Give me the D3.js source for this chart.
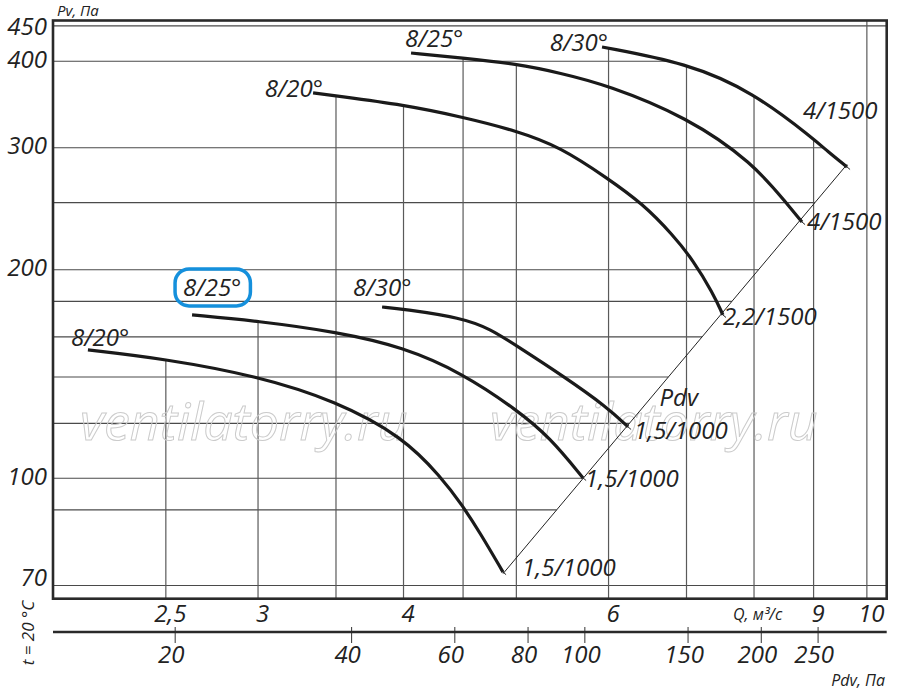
<!DOCTYPE html>
<html>
<head>
<meta charset="utf-8">
<title>Pv-Q fan chart (d3)</title>
<script src="https://cdn.jsdelivr.net/npm/d3@7"></script>
<style>
    body { margin: 0; background: #fff; }
    svg text {
        font-family: "Open Sans", sans-serif;
        font-style: italic;
        fill: #222;
    }
</style>
</head>
<body>
<svg id="chart" width="900" height="692"></svg>
<script>
// ---- data ----
const qGrid = [2.5, 3, 3.5, 4, 4.5, 5, 6, 7, 8, 9, 10];
const qTicks = [2.5, 3, 4, 6, 9, 10];
const qTickLabels = ["2,5", "3", "4", "6", "9", "10"];
const pvGrid = [70, 90, 100, 120, 140, 160, 180, 200, 250, 300, 400, 450];
const pvTicks = [70, 100, 200, 300, 400, 450];
const pdvTicks = [20, 40, 60, 80, 100, 150, 200, 250];
const pdvK = 3.07;                 // Pdv = k * Q^2
const pdvLineQ = [4.87, 9.615];

// [Q m3/s, Pv Pa]
const c20hi = [[3.345, 360.0], [3.50, 356.4], [4.005, 345.9], [4.491, 332.4], [5.006, 317.3], [5.451, 300.9],
               [5.982, 271.4], [6.423, 248.9], [6.815, 224.5], [7.089, 206.6], [7.376, 185.1], [7.523, 172.1]];
const c25hi = [[4.06, 411.1], [4.491, 404.4], [5.006, 396.4], [5.451, 384.7], [5.982, 369.7], [7.006, 332.4],
               [7.983, 285.3], [8.539, 248.9], [8.796, 234.4]];
const c30hi = [[5.923, 419.4], [7.006, 397.7], [7.983, 361.2], [9.025, 307.9], [9.242, 296.9], [9.615, 281.5]];
const c20lo = [[2.143, 153.2], [2.496, 148.7], [2.994, 140.5], [3.50, 129.3], [3.996, 114.7], [4.308, 100.4],
               [4.491, 91.5], [4.654, 83.4], [4.870, 73.2]];
const c25lo = [[2.633, 172.1], [2.994, 168.7], [3.509, 162.6], [3.996, 154.7], [4.491, 141.9], [5.006, 125.5],
               [5.344, 114.5], [5.705, 100.1]];
const c30lo = [[3.834, 176.7], [3.996, 175.5], [4.491, 170.4], [4.747, 164.3], [5.006, 155.2], [5.483, 140.5],
               [5.982, 126.7], [6.236, 118.6]];

const angleLabels = ["8/20°", "8/25°", "8/30°", "8/20°", "8/25°", "8/30°"];
const motorLabels = ["2,2/1500", "4/1500", "4/1500", "1,5/1000", "1,5/1000", "1,5/1000"];

// ---- layout ----
const L = 53, R = 886.7, T = 20.5, B = 598.7;
const FS = 24;
const svg = d3.select("#chart");

const x = d3.scaleLog().domain([2, 10.4]).range([L, R]);
const y = d3.scaleLog().domain([67, 458]).range([B, T]);
const xPdv = d3.scaleLog().domain([12.4, 328]).range([L, R]);

const curves = [c20hi, c25hi, c30hi, c20lo, c25lo, c30lo];
// label placement relative to curve start / end (px)
const startOff = [
    { a: "end", dx: 10, dy: 4 }, { a: "start", dx: -6, dy: -6 }, { a: "end", dx: 6, dy: 4 },
    { a: "start", dx: -17, dy: -4 }, { a: "start", dx: -9, dy: -19 }, { a: "start", dx: -29, dy: -11 }
];
const endOff = [
    { dx: 0, dy: 10 }, { dx: 5, dy: 8 }, { dx: -44, dy: -48 },
    { dx: 19, dy: 4 }, { dx: 2, dy: 9 }, { dx: 6, dy: 12 }
];

const gridG = svg.append("g");
const markG = svg.append("g");
const curveG = svg.append("g");
const textG = svg.append("g");

// watermark
["ventilatorry.ru", "ventilatorry.ru"].forEach((t, i) => {
    markG.append("text")
        .attr("x", i === 0 ? 80 : 490)
        .attr("y", 440)
        .attr("font-size", 52)
        .style("fill", "none")
        .style("stroke", "#cbcbcb")
        .style("stroke-width", 1)
        .text(t);
});

const line = d3.line().x(d => x(d[0])).y(d => y(d[1])).curve(d3.curveBasis);

const paths = curveG.selectAll("path.curve")
    .data(curves)
    .join("path")
    .attr("class", "curve")
    .attr("d", line)
    .attr("fill", "none")
    .attr("stroke", "#1a1a1a")
    .attr("stroke-width", 3.2);

// Pdv line
curveG.append("line")
    .attr("x1", x(pdvLineQ[0])).attr("y1", y(pdvK * pdvLineQ[0] ** 2))
    .attr("x2", x(pdvLineQ[1])).attr("y2", y(pdvK * pdvLineQ[1] ** 2))
    .attr("stroke", "#222").attr("stroke-width", 1);

// small ticks at curve ends
const dxl = x(pdvLineQ[1]) - x(pdvLineQ[0]), dyl = y(pdvK * pdvLineQ[1] ** 2) - y(pdvK * pdvLineQ[0] ** 2);
const len = Math.hypot(dxl, dyl), nx = -dyl / len, ny = dxl / len;
curves.forEach(c => {
    const e = c[c.length - 1], ex = x(e[0]), ey = y(e[1]);
    curveG.append("line")
        .attr("x1", ex - nx * 4).attr("y1", ey - ny * 4)
        .attr("x2", ex + nx * 4).attr("y2", ey + ny * 4)
        .attr("stroke", "#222").attr("stroke-width", 1);
});

// sample curves to clip grid lines
const samples = paths.nodes().map(node => {
    const total = node.getTotalLength(), pts = [];
    for (let s = 0; s <= total; s += 0.5) {
        const p = node.getPointAtLength(s);
        pts.push([p.x, p.y]);
    }
    return pts;
});

function topAt(px) {
    let best = null;
    samples.forEach(pts => {
        for (let i = 0; i < pts.length - 1; i++) {
            const a = pts[i], b = pts[i + 1];
            if (px >= a[0] && px <= b[0] && b[0] > a[0]) {
                const yy = a[1] + (b[1] - a[1]) * (px - a[0]) / (b[0] - a[0]);
                if (best === null || yy < best) best = yy;
                break;
            }
        }
    });
    return best === null ? T : best;
}

function rightAt(py) {
    const yLo = y(pdvK * pdvLineQ[0] ** 2), yHi = y(pdvK * pdvLineQ[1] ** 2);
    if (py > yLo) return R;
    if (py >= yHi) return x(Math.sqrt(y.invert(py) / pdvK));
    let best = null;
    samples.forEach(pts => {
        for (let i = 0; i < pts.length - 1; i++) {
            const a = pts[i], b = pts[i + 1];
            if ((a[1] - py) * (b[1] - py) <= 0 && a[1] !== b[1]) {
                const xx = a[0] + (b[0] - a[0]) * (py - a[1]) / (b[1] - a[1]);
                if (best === null || xx > best) best = xx;
            }
        }
    });
    return best === null ? R : best;
}

gridG.selectAll("line.h")
    .data(pvGrid)
    .join("line")
    .attr("class", "h")
    .attr("x1", L).attr("x2", d => rightAt(y(d)))
    .attr("y1", d => y(d)).attr("y2", d => y(d))
    .attr("stroke", "#4a4a4a").attr("stroke-width", 1.2);

gridG.selectAll("line.v")
    .data(qGrid)
    .join("line")
    .attr("class", "v")
    .attr("x1", d => x(d)).attr("x2", d => x(d))
    .attr("y1", d => topAt(x(d))).attr("y2", B)
    .attr("stroke", "#5a5a5a").attr("stroke-width", 1.2);

// frame
svg.append("rect")
    .attr("x", L).attr("y", T).attr("width", R - L).attr("height", B - T)
    .attr("fill", "none").attr("stroke", "#2a2a2a").attr("stroke-width", 2.6);

// curve labels
curves.forEach((c, i) => {
    const s = c[0], e = c[c.length - 1], o = startOff[i], eo = endOff[i];
    const t = textG.append("text")
        .attr("x", x(s[0]) + o.dx).attr("y", y(s[1]) + o.dy)
        .attr("text-anchor", o.a)
        .attr("font-size", FS)
        .text(angleLabels[i]);
    textG.append("text")
        .attr("x", x(e[0]) + eo.dx).attr("y", y(e[1]) + eo.dy)
        .attr("font-size", FS)
        .text(motorLabels[i]);
    if (i === 4) {
        const bb = t.node().getBBox();
        textG.insert("rect", ":first-child")
            .attr("x", bb.x - 8).attr("y", bb.y - 1)
            .attr("width", bb.width + 17).attr("height", bb.height + 4)
            .attr("rx", 14)
            .attr("fill", "none").attr("stroke", "#1590dc").attr("stroke-width", 3.5);
    }
});

// label on the Pdv line
textG.append("text")
    .attr("x", x(Math.sqrt(131 / pdvK)) + 8).attr("y", y(131) + 9)
    .attr("font-size", FS)
    .text("Pdv");

// Y axis labels
const yAxis = svg.append("g")
    .attr("transform", `translate(${L - 6},0)`)
    .call(d3.axisLeft(y).tickValues(pvTicks).tickSize(0).tickPadding(0).tickFormat(d3.format("d")));
yAxis.select(".domain").remove();
yAxis.selectAll("text")
    .attr("font-size", FS)
    .attr("dy", d => d === 70 ? 0 : d === 450 ? 9 : 6)
    .style("font-family", "'Open Sans', sans-serif");

// Q axis labels
const xAxis = svg.append("g")
    .attr("transform", `translate(4,${B})`)
    .call(d3.axisBottom(x).tickValues(qTicks).tickSize(0).tickPadding(0)
        .tickFormat((d, i) => qTickLabels[i]));
xAxis.select(".domain").remove();
xAxis.selectAll("text")
    .attr("font-size", FS)
    .attr("y", 23).attr("dy", 0)
    .style("font-family", "'Open Sans', sans-serif");

svg.append("text")
    .attr("x", 733).attr("y", 620)
    .attr("font-size", 16)
    .text("Q, м³/с");

// Pdv axis
const pdvY = 632;
const pdvAxis = svg.append("g")
    .attr("transform", `translate(0,${pdvY})`)
    .call(d3.axisBottom(xPdv).tickValues(pdvTicks).tickSize(11).tickPadding(0).tickFormat(d3.format("d")));
pdvAxis.select(".domain").remove();
pdvAxis.selectAll(".tick line").attr("y1", -5).attr("stroke", "#333").attr("stroke-width", 1);
pdvAxis.selectAll(".tick text")
    .attr("font-size", FS)
    .attr("x", -4)
    .attr("y", 31).attr("dy", 0)
    .style("font-family", "'Open Sans', sans-serif");
svg.append("line")
    .attr("x1", L).attr("x2", R).attr("y1", pdvY).attr("y2", pdvY)
    .attr("stroke", "#2a2a2a").attr("stroke-width", 2.4);

// axis titles
svg.append("text").attr("x", 57).attr("y", 16).attr("font-size", 15).text("Pv, Па");
svg.append("text").attr("x", 885).attr("y", 686).attr("text-anchor", "end")
    .attr("font-size", 16).text("Pdv, Па");
svg.append("text")
    .attr("transform", "translate(34,633) rotate(-90)")
    .attr("text-anchor", "middle")
    .attr("font-size", 17)
    .text("t = 20 °C");
</script>
</body>
</html>
